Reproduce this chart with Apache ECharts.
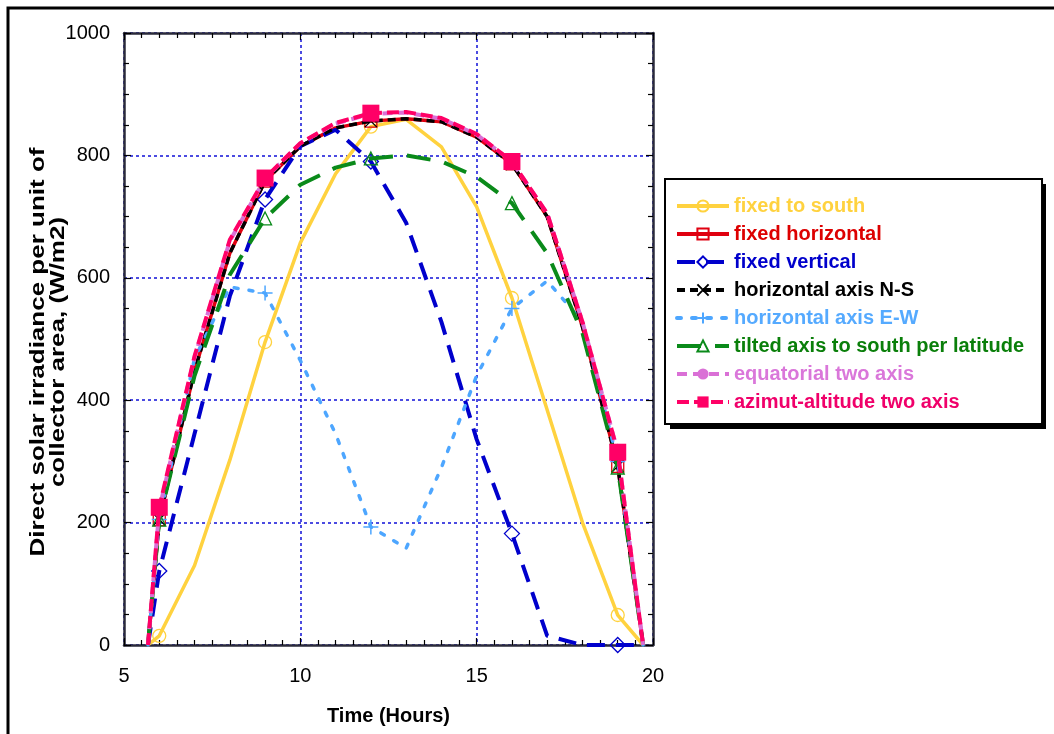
<!DOCTYPE html>
<html>
<head>
<meta charset="utf-8">
<script src="https://cdn.jsdelivr.net/npm/echarts@6/dist/echarts.min.js"></script>
<style>
html,body{margin:0;padding:0;background:#fff;}
#chart{width:1054px;height:734px;}
</style>
</head>
<body>
<div id="chart"></div>
<script>
// ---- data ----
var hours = [5.68, 6, 7, 8, 9, 10, 11, 12, 13, 14, 15, 16, 17, 18, 19, 19.72];
var markerHours = [6, 9, 12, 16, 19];
var fixedToSouth      = [0, 15, 130, 302, 495, 657, 770, 847, 859, 814, 716, 567, 384, 200, 49, 0];
var fixedHorizontal   = [0, 205, 448, 640, 758, 815, 845, 856, 860, 855, 830, 786, 700, 520, 292, 0];
var fixedVertical     = [0, 121, 345, 570, 728, 815, 842, 790, 690, 528, 336, 182, 15, 0, 0, 0];
var horizAxisNS       = [0, 205, 448, 640, 758, 815, 845, 856, 860, 855, 830, 786, 700, 520, 292, 0];
var horizAxisEW       = [0, 205, 468, 585, 575, 465, 345, 193, 158, 290, 440, 550, 595, 528, 300, 0];
var tiltedAxisSouth   = [0, 205, 440, 605, 697, 752, 780, 795, 800, 790, 765, 722, 640, 510, 290, 0];
var equatorialTwoAxis = [0, 222, 470, 660, 762, 820, 852, 868, 870, 860, 834, 790, 705, 528, 316, 0];
var azimutAltitude    = [0, 225, 472, 662, 763, 820, 853, 869, 871, 861, 835, 790, 705, 528, 315, 0];
var xTicks = [5, 10, 15, 20];
var yTicks = [0, 200, 400, 600, 800, 1000];
var seriesNames = ['fixed to south', 'fixed horizontal', 'fixed vertical', 'horizontal axis N-S',
  'horizontal axis E-W', 'tilted axis to south per latitude', 'equatorial two axis', 'azimut-altitude two axis'];
var xTitle = 'Time (Hours)';
var yTitleLines = ['Direct solar irradiance per unit of', 'collector area, (W/m2)'];

var FONT = '"Liberation Sans", Arial, sans-serif';

function pts(vals) {
  return hours.map(function (h, i) {
    var d = { value: [h, vals[i]] };
    if (markerHours.indexOf(h) < 0) d.symbol = 'none';
    return d;
  });
}

var styles = [
  { data: fixedToSouth, color: '#FFD23F', text: '#FFD23F', width: 3.5, type: 'solid', symbol: 'circle', size: 13, fill: 'rgba(255,255,255,0)', bw: 1.3 },
  { data: fixedHorizontal, color: '#E00010', text: '#DD0000', width: 3.5, type: 'solid', symbol: 'rect', size: 12, fill: 'rgba(255,255,255,0)', bw: 1.3 },
  { data: fixedVertical, color: '#0000CC', text: '#0000CC', width: 4, type: [18, 11], symbol: 'diamond', size: 15, fill: 'rgba(255,255,255,0)', bw: 1.3 },
  { data: horizAxisNS, color: '#000000', text: '#000000', width: 3.5, type: [8, 5], symbol: 'path://M0,0L10,10M10,0L0,10', size: 12, fill: 'rgba(0,0,0,0)', bw: 1.3 },
  { data: horizAxisEW, color: '#4DA6FF', text: '#55AAFF', width: 3.5, type: [4, 11], cap: 'round', symbol: 'path://M5,0L5,10M0,5L10,5', size: 15, fill: 'rgba(0,0,0,0)', bw: 1.5 },
  { data: tiltedAxisSouth, color: '#0A8A1A', text: '#0A7F0A', width: 4, type: [24, 14], symbol: 'triangle', size: 13, fill: 'rgba(255,255,255,0)', bw: 1.3 },
  { data: equatorialTwoAxis, color: '#DA70D6', text: '#DA77DA', width: 4, type: [10, 6], symbol: 'circle', size: 12, fill: '#DA70D6', bw: 0 },
  { data: azimutAltitude, color: '#FF0066', text: '#F0006A', width: 4, type: [12, 5], symbol: 'rect', size: 17, fill: '#FF0066', bw: 0 }
];

var series = styles.map(function (s, i) {
  return {
    name: seriesNames[i],
    type: 'line',
    xAxisIndex: 0,
    yAxisIndex: 0,
    data: pts(s.data),
    symbol: s.symbol,
    symbolSize: s.size,
    showSymbol: true,
    color: s.color,
    lineStyle: { color: s.color, width: s.width, type: s.type, cap: s.cap || 'butt' },
    itemStyle: { color: s.fill, borderColor: s.color, borderWidth: s.bw },
    emphasis: { disabled: true },
    z: 2 + i
  };
});

var legendData = styles.map(function (s, i) {
  return { name: seriesNames[i], textStyle: { color: s.text } };
});

var gridLine = { show: true, lineStyle: { color: '#1010D8', width: 1.5, type: [3, 3] } };
var axisLineStyle = { show: true, onZero: false, lineStyle: { color: '#2a2a3a', width: 2.5 } };
var tickStyle = { show: true, inside: true, length: 7, lineStyle: { color: '#000', width: 1.2 } };

var LEG = { left: 665, top: 179, width: 376, height: 245 };

var chart = echarts.init(document.getElementById('chart'), null, { renderer: 'canvas' });
chart.setOption({
  animation: false,
  backgroundColor: '#ffffff',
  grid: { left: 124, top: 33, width: 529, height: 612, containLabel: false },
  xAxis: [{
    type: 'value', min: xTicks[0], max: xTicks[xTicks.length - 1], interval: 5,
    position: 'bottom',
    name: xTitle, nameLocation: 'middle', nameGap: 61,
    nameTextStyle: { fontFamily: FONT, fontWeight: 'bold', fontSize: 20, color: '#000' },
    axisLine: axisLineStyle,
    axisTick: tickStyle,
    minorTick: { show: true, splitNumber: 10, length: 5, lineStyle: { color: '#000', width: 1.2 } },
    axisLabel: { fontFamily: FONT, fontSize: 20, color: '#000', margin: 21 },
    splitLine: gridLine
  }, {
    type: 'value', min: xTicks[0], max: xTicks[xTicks.length - 1], interval: 5,
    position: 'top',
    axisLine: axisLineStyle,
    axisTick: tickStyle,
    minorTick: { show: true, splitNumber: 10, length: 5, lineStyle: { color: '#000', width: 1.2 } },
    axisLabel: { show: false },
    splitLine: { show: false }
  }],
  yAxis: [{
    type: 'value', min: yTicks[0], max: yTicks[yTicks.length - 1], interval: 200,
    position: 'left',
    axisLine: axisLineStyle,
    axisTick: tickStyle,
    minorTick: { show: true, splitNumber: 4, length: 5, lineStyle: { color: '#000', width: 1.2 } },
    axisLabel: { fontFamily: FONT, fontSize: 20, color: '#000', margin: 14, formatter: function (v) { return String(v); } },
    splitLine: gridLine
  }, {
    type: 'value', min: yTicks[0], max: yTicks[yTicks.length - 1], interval: 200,
    position: 'right',
    axisLine: axisLineStyle,
    axisTick: tickStyle,
    minorTick: { show: true, splitNumber: 4, length: 5, lineStyle: { color: '#000', width: 1.2 } },
    axisLabel: { show: false },
    splitLine: { show: false }
  }],
  legend: {
    orient: 'vertical',
    left: LEG.left, top: LEG.top,
    padding: [17, 18, 12, 10],
    itemWidth: 52, itemHeight: 14, itemGap: 8,
    backgroundColor: '#ffffff',
    borderColor: '#000000', borderWidth: 2,
    lineStyle: { width: 4 },
    textStyle: { fontFamily: FONT, fontWeight: 'bold', fontSize: 20, lineHeight: 20 },
    selectedMode: false,
    z: 10,
    data: legendData
  },
  graphic: [
    { type: 'rect', shape: { x: 8, y: 8, width: 1200, height: 900 }, style: { fill: 'none', stroke: '#000', lineWidth: 3 }, z: 100, silent: true },
    { type: 'rect', shape: { x: LEG.left + 5, y: LEG.top + 5, width: LEG.width, height: LEG.height }, style: { fill: '#000' }, z: 5, silent: true },
    { type: 'text', x: 38, y: 352, rotation: Math.PI / 2, scaleX: 1.3, z: 100,
      style: { text: yTitleLines[0], fill: '#000', font: 'bold 20px ' + FONT, textAlign: 'center', textVerticalAlign: 'middle', align: 'center', verticalAlign: 'middle' } },
    { type: 'text', x: 58, y: 352, rotation: Math.PI / 2, scaleX: 1.3, z: 100,
      style: { text: yTitleLines[1], fill: '#000', font: 'bold 20px ' + FONT, textAlign: 'center', textVerticalAlign: 'middle', align: 'center', verticalAlign: 'middle' } }
  ],
  series: series
});
</script>
</body>
</html>
